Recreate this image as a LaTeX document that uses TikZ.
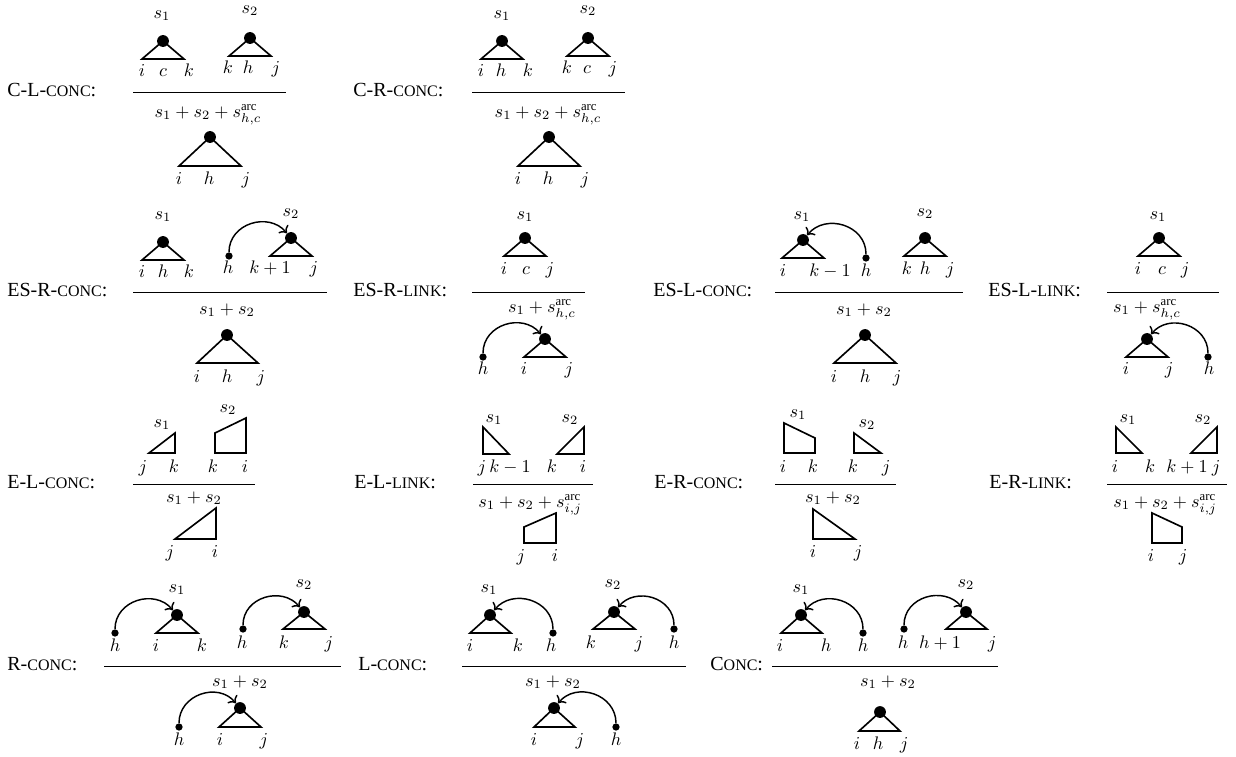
\documentclass[tikz,border=0pt]{standalone}
\usepackage{amsmath}
\usepackage{fontspec}
\setmainfont{Liberation Serif}
\usepackage{tikz}
\usetikzlibrary{arrows.meta}

\newcommand{\smc}[1]{{\fontsize{8.8}{10}\selectfont #1}}

\begin{document}
\begin{tikzpicture}[
  x=0.55pt, y=-0.55pt,
  tri/.style={line width=0.9pt, line join=miter},
  frac/.style={line width=0.5pt},
  hd/.style={circle,fill,inner sep=0pt,minimum size=6.5pt},
  wd/.style={circle,fill,inner sep=0pt,minimum size=4pt},
  lbl/.style={anchor=mid,inner sep=0pt},
  rname/.style={anchor=mid west,inner sep=0pt,font=\fontsize{11}{13}\selectfont},
  depr/.style={->,line width=0.8pt,out=90,in=130,looseness=1.2},
  depl/.style={->,line width=0.8pt,out=90,in=50,looseness=1.2}
]
  \useasboundingbox (0,0) rectangle (1236,756);

  % C-L-CONC
  \begin{scope}
    \node[rname] (cl) at (7,92) {C-L-\smc{CONC}:};
    \draw[frac] (133,92) -- (286,92);
    \node[lbl] (cl-s1) at (162,14) {$s_1$};
    \node[hd] (cl-d1) at (163,41) {};
    \draw[tri] (142,59) -- (cl-d1.center) -- (184,59) -- cycle;
    \node[lbl] (cl-a1) at (142,72) {$i$};
    \node[lbl] (cl-a2) at (163,72) {$c$};
    \node[lbl] (cl-a3) at (189,72) {$k$};
    \node[lbl] (cl-s2) at (250,9) {$s_2$};
    \node[hd] (cl-d2) at (250,38) {};
    \draw[tri] (229,56) -- (cl-d2.center) -- (271,56) -- cycle;
    \node[lbl] (cl-b1) at (228,69) {$k$};
    \node[lbl] (cl-b2) at (248,69) {$h$};
    \node[lbl] (cl-b3) at (276,69) {$j$};
    \node[lbl] (cl-f) at (208,113) {$s_1+s_2+s^{\text{arc}}_{h,c}$};
    \node[hd] (cl-d3) at (210,137) {};
    \draw[tri] (179,166) -- (cl-d3.center) -- (241,166) -- cycle;
    \node[lbl] (cl-c1) at (179,180) {$i$};
    \node[lbl] (cl-c2) at (209,180) {$h$};
    \node[lbl] (cl-c3) at (246,180) {$j$};
  \end{scope}

  % C-R-CONC
  \begin{scope}
    \node[rname] (cr) at (353,92) {C-R-\smc{CONC}:};
    \draw[frac] (472,92) -- (625,92);
    \node[lbl] (cr-s1) at (502,14) {$s_1$};
    \node[hd] (cr-d1) at (502,41) {};
    \draw[tri] (481,59) -- (cr-d1.center) -- (523,59) -- cycle;
    \node[lbl] (cr-a1) at (481,72) {$i$};
    \node[lbl] (cr-a2) at (501,72) {$h$};
    \node[lbl] (cr-a3) at (528,72) {$k$};
    \node[lbl] (cr-s2) at (588,9) {$s_2$};
    \node[hd] (cr-d2) at (588,38) {};
    \draw[tri] (567,56) -- (cr-d2.center) -- (609,56) -- cycle;
    \node[lbl] (cr-b1) at (567,69) {$k$};
    \node[lbl] (cr-b2) at (587,69) {$c$};
    \node[lbl] (cr-b3) at (613,69) {$j$};
    \node[lbl] (cr-f) at (548,113) {$s_1+s_2+s^{\text{arc}}_{h,c}$};
    \node[hd] (cr-d3) at (549,137) {};
    \draw[tri] (518,166) -- (cr-d3.center) -- (580,166) -- cycle;
    \node[lbl] (cr-c1) at (518,180) {$i$};
    \node[lbl] (cr-c2) at (548,180) {$h$};
    \node[lbl] (cr-c3) at (585,180) {$j$};
  \end{scope}

  % ES-R-CONC
  \begin{scope}
    \node[rname] (esrc) at (7,292) {ES-R-\smc{CONC}:};
    \draw[frac] (133,292) -- (327,292);
    \node[lbl] (esrc-s1) at (163,215) {$s_1$};
    \node[hd] (esrc-d1) at (163,242) {};
    \draw[tri] (142,260) -- (esrc-d1.center) -- (184,260) -- cycle;
    \node[lbl] (esrc-a1) at (142,273) {$i$};
    \node[lbl] (esrc-a2) at (163,273) {$h$};
    \node[lbl] (esrc-a3) at (189,273) {$k$};
    \node[lbl] (esrc-s2) at (291,212) {$s_2$};
    \node[wd] (esrc-w) at (229,256) {};
    \node[hd] (esrc-d2) at (291,238) {};
    \draw[tri] (270,256) -- (esrc-d2.center) -- (312,256) -- cycle;
    \draw[depr] (esrc-w) to (esrc-d2);
    \node[lbl] (esrc-b1) at (228,269) {$h$};
    \node[lbl] (esrc-b2) at (270,269) {$k+1$};
    \node[lbl] (esrc-b3) at (314,269) {$j$};
    \node[lbl] (esrc-f) at (227,310) {$s_1+s_2$};
    \node[hd] (esrc-d3) at (227,335) {};
    \draw[tri] (197,363) -- (esrc-d3.center) -- (258,363) -- cycle;
    \node[lbl] (esrc-c1) at (197,378) {$i$};
    \node[lbl] (esrc-c2) at (227,378) {$h$};
    \node[lbl] (esrc-c3) at (261,378) {$j$};
  \end{scope}

  % ES-R-LINK
  \begin{scope}
    \node[rname] (esrl) at (353,292) {ES-R-\smc{LINK}:};
    \draw[frac] (472,292) -- (585,292);
    \node[lbl] (esrl-s1) at (525,215) {$s_1$};
    \node[hd] (esrl-d1) at (525,238) {};
    \draw[tri] (504,256) -- (esrl-d1.center) -- (546,256) -- cycle;
    \node[lbl] (esrl-a1) at (504,270) {$i$};
    \node[lbl] (esrl-a2) at (526,270) {$c$};
    \node[lbl] (esrl-a3) at (550,270) {$j$};
    \node[lbl] (esrl-f) at (542,308) {$s_1+s^{\text{arc}}_{h,c}$};
    \node[wd] (esrl-w) at (483,357) {};
    \node[hd] (esrl-d2) at (545,339) {};
    \draw[tri] (524,357) -- (esrl-d2.center) -- (566,357) -- cycle;
    \draw[depr] (esrl-w) to (esrl-d2);
    \node[lbl] (esrl-c1) at (483,370) {$h$};
    \node[lbl] (esrl-c2) at (524,370) {$i$};
    \node[lbl] (esrl-c3) at (569,370) {$j$};
  \end{scope}

  % ES-L-CONC
  \begin{scope}
    \node[rname] (eslc) at (653,292) {ES-L-\smc{CONC}:};
    \draw[frac] (775,292) -- (963,292);
    \node[lbl] (eslc-s1) at (802,215) {$s_1$};
    \node[hd] (eslc-d1) at (803,240) {};
    \draw[tri] (782,258) -- (eslc-d1.center) -- (824,258) -- cycle;
    \node[wd] (eslc-w) at (866,258) {};
    \draw[depl] (eslc-w) to (eslc-d1);
    \node[lbl] (eslc-a1) at (783,272) {$i$};
    \node[lbl] (eslc-a2) at (830,272) {$k-1$};
    \node[lbl] (eslc-a3) at (866,272) {$h$};
    \node[lbl] (eslc-s2) at (925,212) {$s_2$};
    \node[hd] (eslc-d2) at (925,238) {};
    \draw[tri] (904,256) -- (eslc-d2.center) -- (946,256) -- cycle;
    \node[lbl] (eslc-b1) at (907,270) {$k$};
    \node[lbl] (eslc-b2) at (925,270) {$h$};
    \node[lbl] (eslc-b3) at (950,270) {$j$};
    \node[lbl] (eslc-f) at (864,310) {$s_1+s_2$};
    \node[hd] (eslc-d3) at (865,335) {};
    \draw[tri] (834,363) -- (eslc-d3.center) -- (896,363) -- cycle;
    \node[lbl] (eslc-c1) at (834,378) {$i$};
    \node[lbl] (eslc-c2) at (865,378) {$h$};
    \node[lbl] (eslc-c3) at (897,378) {$j$};
  \end{scope}

  % ES-L-LINK
  \begin{scope}
    \node[rname] (esll) at (988,292) {ES-L-\smc{LINK}:};
    \draw[frac] (1107,292) -- (1219,292);
    \node[lbl] (esll-s1) at (1158,215) {$s_1$};
    \node[hd] (esll-d1) at (1159,238) {};
    \draw[tri] (1138,256) -- (esll-d1.center) -- (1180,256) -- cycle;
    \node[lbl] (esll-a1) at (1138,270) {$i$};
    \node[lbl] (esll-a2) at (1162,270) {$c$};
    \node[lbl] (esll-a3) at (1185,270) {$j$};
    \node[lbl] (esll-f) at (1147,308) {$s_1+s^{\text{arc}}_{h,c}$};
    \node[hd] (esll-d2) at (1147,339) {};
    \draw[tri] (1126,357) -- (esll-d2.center) -- (1168,357) -- cycle;
    \node[wd] (esll-w) at (1208,357) {};
    \draw[depl] (esll-w) to (esll-d2);
    \node[lbl] (esll-c1) at (1126,370) {$i$};
    \node[lbl] (esll-c2) at (1169,370) {$j$};
    \node[lbl] (esll-c3) at (1209,370) {$h$};
  \end{scope}

  % E-L-CONC
  \begin{scope}
    \node[rname] (elc) at (7,484) {E-L-\smc{CONC}:};
    \draw[frac] (133,484) -- (255,484);
    \node[lbl] (elc-s1) at (162,423) {$s_1$};
    \draw[tri] (149,453) -- (175,453) -- (175,433) -- cycle;
    \node[lbl] (elc-s2) at (228,408) {$s_2$};
    \draw[tri] (215,453) -- (246,453) -- (246,418) -- (215,433) -- cycle;
    \node[lbl] (elc-a1) at (143,468) {$j$};
    \node[lbl] (elc-a2) at (174,468) {$k$};
    \node[lbl] (elc-a3) at (213,468) {$k$};
    \node[lbl] (elc-a4) at (245,468) {$i$};
    \node[lbl] (elc-f) at (194,498) {$s_1+s_2$};
    \draw[tri] (175,539) -- (216,539) -- (216,508) -- cycle;
    \node[lbl] (elc-c1) at (170,553) {$j$};
    \node[lbl] (elc-c2) at (215,553) {$i$};
  \end{scope}

  % E-L-LINK
  \begin{scope}
    \node[rname] (ell) at (354,484) {E-L-\smc{LINK}:};
    \draw[frac] (473,484) -- (593,484);
    \node[lbl] (ell-s1) at (494,418) {$s_1$};
    \draw[tri] (483,427) -- (483,454) -- (509,454) -- cycle;
    \node[lbl] (ell-s2) at (570,418) {$s_2$};
    \draw[tri] (557,454) -- (584,454) -- (584,427) -- cycle;
    \node[lbl] (ell-a1) at (482,468) {$j$};
    \node[lbl] (ell-a2) at (510,468) {$k-1$};
    \node[lbl] (ell-a3) at (552,468) {$k$};
    \node[lbl] (ell-a4) at (583,468) {$i$};
    \node[lbl] (ell-f) at (530,503) {$s_1+s_2+s^{\text{arc}}_{i,j}$};
    \draw[tri] (524,527) -- (524,543) -- (556,543) -- (556,513) -- cycle;
    \node[lbl] (ell-c1) at (521,557) {$j$};
    \node[lbl] (ell-c2) at (555,557) {$i$};
  \end{scope}

  % E-R-CONC
  \begin{scope}
    \node[rname] (erc) at (654,484) {E-R-\smc{CONC}:};
    \draw[frac] (775,484) -- (896,484);
    \node[lbl] (erc-s1) at (798,413) {$s_1$};
    \draw[tri] (784,423) -- (784,453) -- (815,453) -- (815,438) -- cycle;
    \node[lbl] (erc-s2) at (867,423) {$s_2$};
    \draw[tri] (854,433) -- (854,453) -- (881,453) -- cycle;
    \node[lbl] (erc-a1) at (783,468) {$i$};
    \node[lbl] (erc-a2) at (813,468) {$k$};
    \node[lbl] (erc-a3) at (853,468) {$k$};
    \node[lbl] (erc-a4) at (886,468) {$j$};
    \node[lbl] (erc-f) at (833,498) {$s_1+s_2$};
    \draw[tri] (813,509) -- (813,539) -- (855,539) -- cycle;
    \node[lbl] (erc-c1) at (813,553) {$i$};
    \node[lbl] (erc-c2) at (858,553) {$j$};
  \end{scope}

  % E-R-LINK
  \begin{scope}
    \node[rname] (erl) at (989,484) {E-R-\smc{LINK}:};
    \draw[frac] (1107,484) -- (1227,484);
    \node[lbl] (erl-s1) at (1128,418) {$s_1$};
    \draw[tri] (1116,427) -- (1116,453) -- (1142,453) -- cycle;
    \node[lbl] (erl-s2) at (1203,418) {$s_2$};
    \draw[tri] (1191,453) -- (1217,453) -- (1217,427) -- cycle;
    \node[lbl] (erl-a1) at (1115,468) {$i$};
    \node[lbl] (erl-a2) at (1150,468) {$k$};
    \node[lbl] (erl-a3) at (1187,468) {$k+1$};
    \node[lbl] (erl-a4) at (1216,468) {$j$};
    \node[lbl] (erl-f) at (1165,503) {$s_1+s_2+s^{\text{arc}}_{i,j}$};
    \draw[tri] (1152,513) -- (1152,543) -- (1182,543) -- (1182,527) -- cycle;
    \node[lbl] (erl-c1) at (1151,557) {$i$};
    \node[lbl] (erl-c2) at (1183,557) {$j$};
  \end{scope}

  % R-CONC
  \begin{scope}
    \node[rname] (rc) at (7,666) {R-\smc{CONC}:};
    \draw[frac] (104,666) -- (341,666);
    \node[lbl] (rc-s1) at (177,588) {$s_1$};
    \node[wd] (rc-w1) at (115,633) {};
    \node[hd] (rc-d1) at (177,615) {};
    \draw[tri] (156,633) -- (rc-d1.center) -- (198,633) -- cycle;
    \draw[depr] (rc-w1) to (rc-d1);
    \node[lbl] (rc-a1) at (115,647) {$h$};
    \node[lbl] (rc-a2) at (156,647) {$i$};
    \node[lbl] (rc-a3) at (202,647) {$k$};
    \node[lbl] (rc-s2) at (304,583) {$s_2$};
    \node[wd] (rc-w2) at (243,629) {};
    \node[hd] (rc-d2) at (304,612) {};
    \draw[tri] (283,629) -- (rc-d2.center) -- (325,629) -- cycle;
    \draw[depr] (rc-w2) to (rc-d2);
    \node[lbl] (rc-b1) at (242,644) {$h$};
    \node[lbl] (rc-b2) at (284,644) {$k$};
    \node[lbl] (rc-b3) at (329,644) {$j$};
    \node[lbl] (rc-f) at (240,682) {$s_1+s_2$};
    \node[wd] (rc-w3) at (179,727) {};
    \node[hd] (rc-d3) at (240,708) {};
    \draw[tri] (219,727) -- (rc-d3.center) -- (261,727) -- cycle;
    \draw[depr] (rc-w3) to (rc-d3);
    \node[lbl] (rc-c1) at (179,741) {$h$};
    \node[lbl] (rc-c2) at (220,741) {$i$};
    \node[lbl] (rc-c3) at (264,741) {$j$};
  \end{scope}

  % L-CONC
  \begin{scope}
    \node[rname] (lc) at (358,666) {L-\smc{CONC}:};
    \draw[frac] (462,666) -- (686,666);
    \node[lbl] (lc-s1) at (489,588) {$s_1$};
    \node[hd] (lc-d1) at (490,615) {};
    \draw[tri] (470,633) -- (lc-d1.center) -- (511,633) -- cycle;
    \node[wd] (lc-w1) at (553,633) {};
    \draw[depl] (lc-w1) to (lc-d1);
    \node[lbl] (lc-a1) at (470,647) {$i$};
    \node[lbl] (lc-a2) at (518,647) {$k$};
    \node[lbl] (lc-a3) at (551,647) {$h$};
    \node[lbl] (lc-s2) at (613,583) {$s_2$};
    \node[hd] (lc-d2) at (614,612) {};
    \draw[tri] (593,629) -- (lc-d2.center) -- (635,629) -- cycle;
    \node[wd] (lc-w2) at (674,629) {};
    \draw[depl] (lc-w2) to (lc-d2);
    \node[lbl] (lc-b1) at (591,644) {$k$};
    \node[lbl] (lc-b2) at (639,644) {$j$};
    \node[lbl] (lc-b3) at (674,644) {$h$};
    \node[lbl] (lc-f) at (553,682) {$s_1+s_2$};
    \node[hd] (lc-d3) at (554,708) {};
    \draw[tri] (534,727) -- (lc-d3.center) -- (575,727) -- cycle;
    \node[wd] (lc-w3) at (616,727) {};
    \draw[depl] (lc-w3) to (lc-d3);
    \node[lbl] (lc-c1) at (534,741) {$i$};
    \node[lbl] (lc-c2) at (580,741) {$j$};
    \node[lbl] (lc-c3) at (616,741) {$h$};
  \end{scope}

  % CONC
  \begin{scope}
    \node[rname] (cc) at (710,666) {C\smc{ONC}:};
    \draw[frac] (772,666) -- (998,666);
    \node[lbl] (cc-s1) at (801,588) {$s_1$};
    \node[hd] (cc-d1) at (801,615) {};
    \draw[tri] (781,633) -- (cc-d1.center) -- (822,633) -- cycle;
    \node[wd] (cc-w1) at (863,633) {};
    \draw[depl] (cc-w1) to (cc-d1);
    \node[lbl] (cc-a1) at (780,647) {$i$};
    \node[lbl] (cc-a2) at (826,647) {$h$};
    \node[lbl] (cc-a3) at (863,647) {$h$};
    \node[lbl] (cc-s2) at (966,583) {$s_2$};
    \node[wd] (cc-w2) at (904,629) {};
    \node[hd] (cc-d2) at (966,612) {};
    \draw[tri] (946,629) -- (cc-d2.center) -- (987,629) -- cycle;
    \draw[depr] (cc-w2) to (cc-d2);
    \node[lbl] (cc-b1) at (903,644) {$h$};
    \node[lbl] (cc-b2) at (940,644) {$h+1$};
    \node[lbl] (cc-b3) at (992,644) {$j$};
    \node[lbl] (cc-f) at (888,682) {$s_1+s_2$};
    \node[hd] (cc-d3) at (880,712) {};
    \draw[tri] (859,731) -- (cc-d3.center) -- (900,731) -- cycle;
    \node[lbl] (cc-c1) at (857,745) {$i$};
    \node[lbl] (cc-c2) at (878,745) {$h$};
    \node[lbl] (cc-c3) at (904,745) {$j$};
  \end{scope}
\end{tikzpicture}
\end{document}
